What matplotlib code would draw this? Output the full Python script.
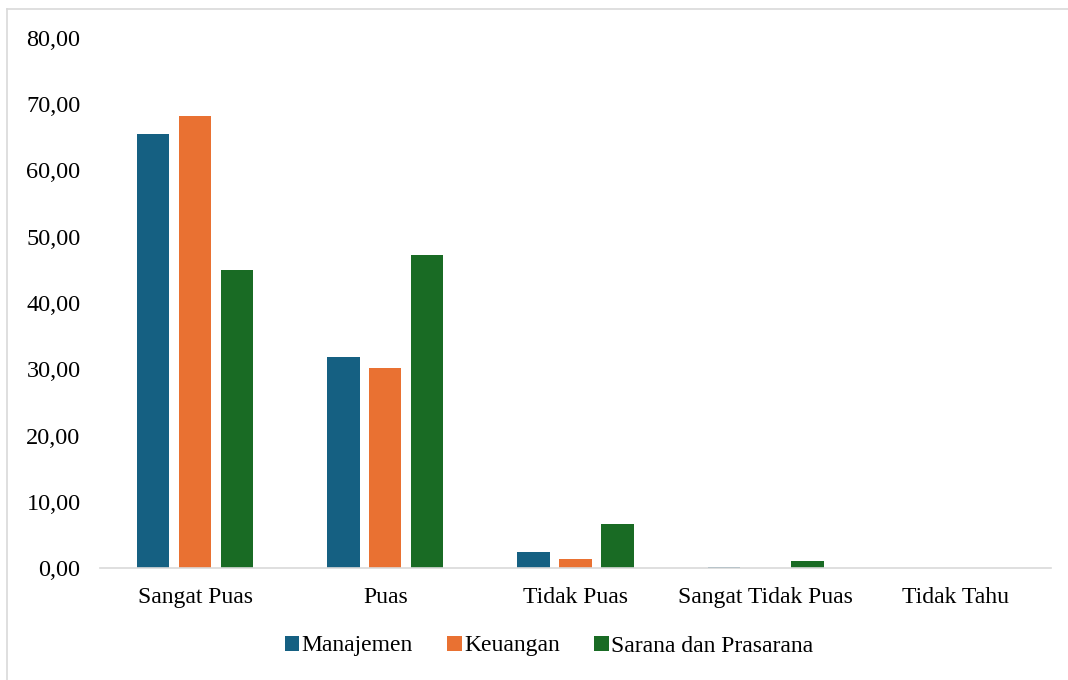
import numpy as np
import matplotlib.pyplot as plt
from matplotlib.lines import Line2D
from matplotlib.ticker import FuncFormatter

plt.rcParams['font.family'] = ['Liberation Serif', 'DejaVu Serif']

# data
kategori = ['Sangat Puas', 'Puas', 'Tidak Puas', 'Sangat Tidak Puas', 'Tidak Tahu']
manajemen = [65.5, 31.8, 2.4, 0.2, 0.0]
keuangan = [68.3, 30.2, 1.4, 0.0, 0.0]
sarana = [45.0, 47.2, 6.7, 1.0, 0.0]
seri = ['Manajemen', 'Keuangan', 'Sarana dan Prasarana']
warna = ['#156082', '#E97132', '#196B24']

fig = plt.figure(figsize=(10.68, 6.8), dpi=100)
ax = fig.add_axes([100/1068, 112/680, 951/1068, 530/680])

x = np.arange(len(kategori))
lebar = 0.17
jarak = 0.22
for i, (nilai, nama) in enumerate(zip([manajemen, keuangan, sarana], seri)):
    ax.bar(x + (i - 1) * jarak, nilai, width=lebar, color=warna[i],
           linewidth=0, label=nama)

ax.set_xlim(-0.5, len(kategori) - 0.5)
ax.set_ylim(0, 80)
ax.set_yticks(np.arange(0, 81, 10))
ax.yaxis.set_major_formatter(FuncFormatter(lambda v, p: f'{v:.2f}'.replace('.', ',')))
ax.set_xticks(x)
ax.set_xticklabels(kategori)
ax.tick_params(axis='both', length=0, labelsize=17, colors='#000000')
ax.tick_params(axis='y', pad=14, labelsize=17.5)
ax.tick_params(axis='x', pad=14)

for s in ['top', 'right', 'left']:
    ax.spines[s].set_visible(False)
ax.spines['bottom'].set_color('#D9D9D9')
ax.spines['bottom'].set_linewidth(1.2)

ax.legend(loc='center', bbox_to_anchor=(549/1068, 34/680), bbox_transform=fig.transFigure,
          ncol=3, frameon=False, fontsize=17, handlelength=0.62, handleheight=0.62,
          handletextpad=0.1, columnspacing=1.45)

# border of the chart area
fig.add_artist(Line2D([7/1068, 7/1068], [0, 1 - 9/680], color='#D9D9D9', linewidth=1.2))
fig.add_artist(Line2D([7/1068, 1], [1 - 9/680, 1 - 9/680], color='#D9D9D9', linewidth=1.2))

fig.savefig('out.png', dpi=100)
